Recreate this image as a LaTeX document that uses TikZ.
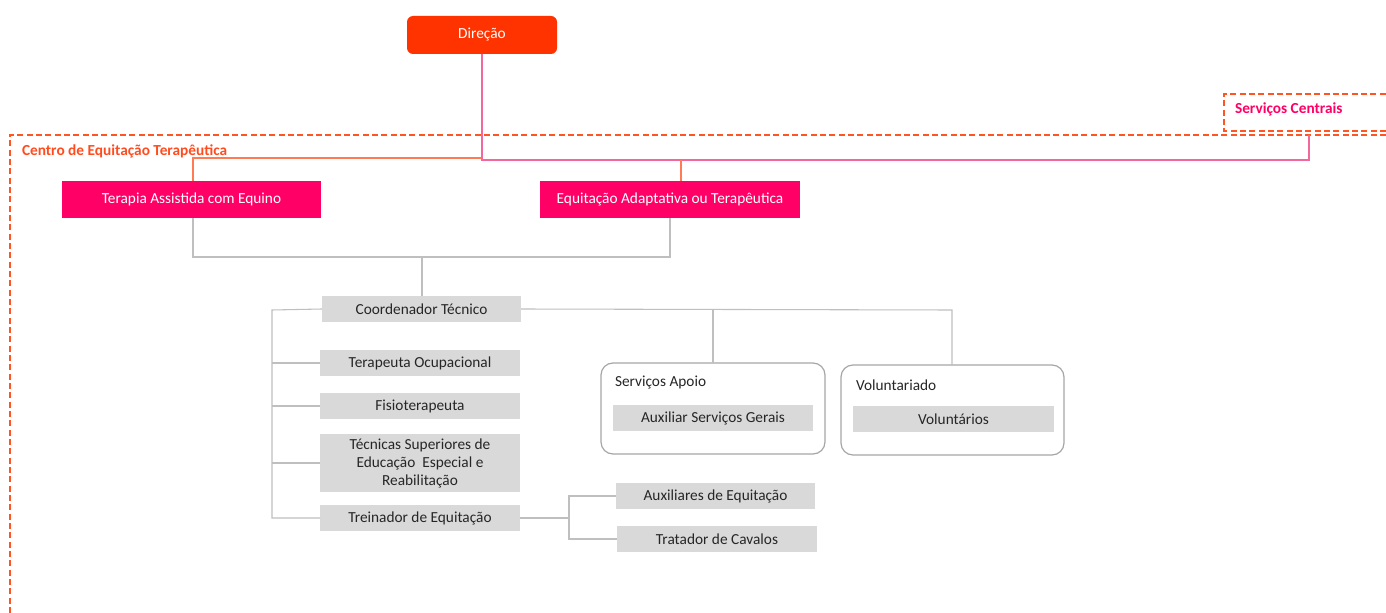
\documentclass[tikz,border=0pt]{standalone}
\usepackage{fontspec}
\setmainfont{Carlito}
\definecolor{dirfill}{HTML}{FF3300}
\definecolor{unitfill}{HTML}{FF0066}
\definecolor{rolefill}{HTML}{D9D9D9}
\definecolor{linkgray}{HTML}{BFBFBF}
\definecolor{framegray}{HTML}{A6A6A6}
\definecolor{dashorange}{HTML}{FF5522}
\definecolor{buspink}{HTML}{F2679C}
\definecolor{busorange}{HTML}{FF7A55}
\definecolor{textdark}{HTML}{262626}
\begin{document}
\begin{tikzpicture}[x=0.75pt,y=-0.75pt,
  every node/.style={inner sep=0pt, outer sep=0pt, font=\fontsize{11.5}{13.5}\selectfont},
  dirbox/.style={fill=dirfill, text=white, rounded corners=4.5pt},
  unitbox/.style={fill=unitfill, text=white},
  rolebox/.style={fill=rolefill, text=textdark, align=center},
  groupbox/.style={draw=framegray, line width=0.9pt, fill=white, rounded corners=9pt},
  grouptitle/.style={text=textdark, anchor=west},
  link/.style={draw=linkgray, line width=0.8pt},
  dashframe/.style={draw=dashorange, line width=1.1pt, dash pattern=on 4.5pt off 2.5pt},
]
\useasboundingbox (0,0) rectangle (1386,613);

% dashed frames
\draw[dashframe] (1386,131) -- (1224,131) -- (1224,94) -- (1386,94);
\draw[dashframe] (1386,135) -- (10,135) -- (10,613);
\node[anchor=west, text=unitfill, font=\fontsize{11.5}{13.5}\selectfont\bfseries] (sc) at (1235,109) {Serviços Centrais};
\node[anchor=west, text=dashorange!90!red, font=\fontsize{11.5}{13.5}\selectfont\bfseries] (cet) at (22,151) {Centro de Equitação Terapêutica};

% top level
\node[dirbox, minimum width=150*0.75pt, minimum height=38*0.75pt] (dir) at (482,35) {Direção};
\node[unitbox, minimum width=259*0.75pt, minimum height=37*0.75pt] (tae) at (191.5,199.5) {Terapia Assistida com Equino};
\node[unitbox, minimum width=260*0.75pt, minimum height=37*0.75pt] (eat) at (670,199.5) {Equitação Adaptativa ou Terapêutica};

\coordinate (busL) at (193,158);
\coordinate (busR) at (1309,160);
\coordinate (eatTop) at (681,181);
\draw[busorange, line width=0.8pt] (dir.south) |- (busL) -- (tae.north -| busL);
\draw[buspink, line width=0.8pt] (dir.south) |- (busR) -- (1309,135);
\draw[busorange, line width=0.8pt] (eatTop |- busR) -- (eatTop);

% technical coordination
\node[rolebox, minimum width=199*0.75pt, minimum height=26*0.75pt] (coord) at (421.5,309) {Coordenador Técnico};
\coordinate (mid) at (422,257);
\draw[link] (tae.south -| busL) |- (mid) -| (eat.south);
\draw[link] (mid) -- (coord.north -| mid);

\node[rolebox, minimum width=200*0.75pt, minimum height=26*0.75pt] (to) at (420,363) {Terapeuta Ocupacional};
\node[rolebox, minimum width=200*0.75pt, minimum height=26*0.75pt] (fis) at (420,406) {Fisioterapeuta};
\node[rolebox, minimum width=200*0.75pt, minimum height=58*0.75pt] (tse) at (420,463) {Técnicas Superiores de\\Educação\ \ Especial e\\Reabilitação};
\node[rolebox, minimum width=200*0.75pt, minimum height=26*0.75pt] (tre) at (420,518) {Treinador de Equitação};

\coordinate (spine) at (272,310);
\draw[link] (coord.west) -- (spine) |- (tre.west);
\draw[link] (to.west) -- (to.west -| spine);
\draw[link] (fis.west) -- (fis.west -| spine);
\draw[link] (tse.west) -- (tse.west -| spine);

% support and volunteers
\node[groupbox, minimum width=224*0.75pt, minimum height=91*0.75pt] (sa) at (713,408.5) {};
\node[grouptitle] (saT) at (615,383) {Serviços Apoio};
\node[rolebox, minimum width=200*0.75pt, minimum height=26*0.75pt] (asg) at (713,418) {Auxiliar Serviços Gerais};

\node[groupbox, minimum width=223*0.75pt, minimum height=90*0.75pt] (vol) at (952.5,410) {};
\node[grouptitle] (volT) at (856,385) {Voluntariado};
\node[rolebox, minimum width=201*0.75pt, minimum height=26*0.75pt] (vols) at (953.5,419) {Voluntários};

\coordinate (rbus) at (952,310);
\draw[link] (coord.east) -- (rbus) -- (vol.north -| rbus);
\draw[link] (sa.north -| 713,0) -- (713,310);

% riding staff
\node[rolebox, minimum width=199*0.75pt, minimum height=26*0.75pt] (aux) at (715.5,496) {Auxiliares de Equitação};
\node[rolebox, minimum width=200*0.75pt, minimum height=26*0.75pt] (trat) at (717,539) {Tratador de Cavalos};
\coordinate (fork) at (569,518);
\draw[link] (tre.east) -- (fork);
\draw[link] (aux.west) -| (fork) |- (trat.west);
\end{tikzpicture}
\end{document}
